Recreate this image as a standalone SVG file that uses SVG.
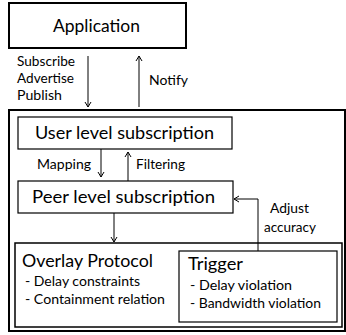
<svg xmlns="http://www.w3.org/2000/svg" width="346" height="335" viewBox="0 0 346 335">
  <defs>
    <marker id="open-arrow" markerWidth="8" markerHeight="8" refX="6" refY="4" orient="auto" markerUnits="userSpaceOnUse">
      <path d="M1,1 L6,4 L1,7" fill="none" stroke="#000" stroke-width="1"/>
    </marker>
  </defs>
  <style>
    text { font-family: "Lato", "Open Sans", "Liberation Sans", sans-serif; fill: #000; }
    .big { font-size: 18px; }
    .small { font-size: 13px; }
    .box { fill: #fff; stroke: #000; stroke-width: 1.2; }
    .conn { fill: none; stroke: #000; stroke-width: 1; marker-end: url(#open-arrow); }
  </style>
  <rect width="346" height="335" fill="#fff"/>

  <!-- middleware frame -->
  <g id="frame">
    <rect x="9" y="110" width="336" height="221" fill="none" stroke="#000" stroke-width="2"/>
  </g>

  <g id="application">
    <rect x="9" y="3" width="177" height="45" fill="#fff" stroke="#000" stroke-width="2"/>
    <text class="big" x="53" y="32" textLength="87" lengthAdjust="spacingAndGlyphs">Application</text>
  </g>

  <g id="user-level">
    <rect class="box" x="18" y="117" width="214" height="32"/>
    <text class="big" x="35" y="139" textLength="179" lengthAdjust="spacingAndGlyphs">User level subscription</text>
  </g>

  <g id="peer-level">
    <rect class="box" x="18" y="181" width="215" height="32"/>
    <text class="big" x="32" y="203" textLength="183" lengthAdjust="spacingAndGlyphs">Peer level subscription</text>
  </g>

  <g id="overlay-protocol">
    <rect x="15" y="243" width="327" height="84" fill="#fff" stroke="#000" stroke-width="1.5"/>
    <text class="big" x="22" y="267" textLength="131" lengthAdjust="spacingAndGlyphs">Overlay Protocol</text>
    <text class="small" x="25" y="286" textLength="115" lengthAdjust="spacingAndGlyphs">- Delay constraints</text>
    <text class="small" x="25" y="304" textLength="140" lengthAdjust="spacingAndGlyphs">- Containment relation</text>
  </g>

  <g id="trigger">
    <rect class="box" x="179" y="251" width="158" height="71"/>
    <text class="big" x="188" y="270" textLength="55" lengthAdjust="spacingAndGlyphs">Trigger</text>
    <text class="small" x="190" y="290" textLength="102" lengthAdjust="spacingAndGlyphs">- Delay violation</text>
    <text class="small" x="190" y="308" textLength="131" lengthAdjust="spacingAndGlyphs">- Bandwidth violation</text>
  </g>

  <g id="connectors">
    <path class="conn" d="M88,56 V107"/>
    <path class="conn" d="M139,107 V56"/>
    <path class="conn" d="M101,149 V177"/>
    <path class="conn" d="M128,181 V152"/>
    <path class="conn" d="M114,213 V242"/>
    <path class="conn" d="M258,251 V199 H234"/>
  </g>

  <g id="labels">
    <text class="small" x="17" y="66" textLength="58" lengthAdjust="spacingAndGlyphs">Subscribe</text>
    <text class="small" x="17" y="83" textLength="57" lengthAdjust="spacingAndGlyphs">Advertise</text>
    <text class="small" x="17" y="100" textLength="45" lengthAdjust="spacingAndGlyphs">Publish</text>
    <text class="small" x="149" y="85" textLength="39" lengthAdjust="spacingAndGlyphs">Notify</text>
    <text class="small" x="37" y="169" textLength="54" lengthAdjust="spacingAndGlyphs">Mapping</text>
    <text class="small" x="136" y="169" textLength="49" lengthAdjust="spacingAndGlyphs">Filtering</text>
    <text class="small" x="270" y="213" textLength="39" lengthAdjust="spacingAndGlyphs">Adjust</text>
    <text class="small" x="264" y="232" textLength="52" lengthAdjust="spacingAndGlyphs">accuracy</text>
  </g>
</svg>
